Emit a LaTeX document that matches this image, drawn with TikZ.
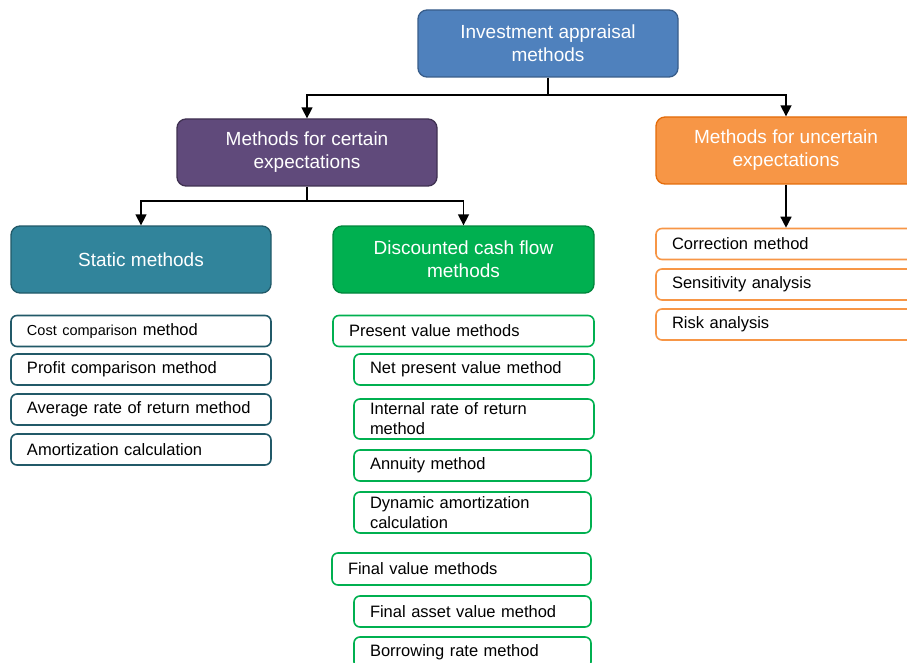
\documentclass[tikz,border=0pt]{standalone}
\usepackage{fontspec}
\setmainfont{Liberation Sans}
\usetikzlibrary{arrows.meta}
\definecolor{cblue}{HTML}{4F81BD}\definecolor{cblueD}{HTML}{385D8A}
\definecolor{cpurp}{HTML}{604A7B}\definecolor{cpurpD}{HTML}{3F3151}
\definecolor{corng}{HTML}{F79646}\definecolor{corngD}{HTML}{E46C0A}
\definecolor{cteal}{HTML}{31849B}\definecolor{ctealD}{HTML}{215968}
\definecolor{cgrn}{HTML}{00B050}\definecolor{cgrnD}{HTML}{00863C}
\tikzset{
  hdr/.style n args={2}{draw=#2, fill=#1, line width=1.3pt, rounded corners=9pt,
    minimum width=260pt, minimum height=67pt, text=white, align=center,
    font=\fontsize{19}{23}\selectfont},
  item/.style={draw=#1, fill=white, line width=1.6pt, rounded corners=6pt,
    minimum height=31pt, inner xsep=15pt, inner ysep=2pt, align=left,
    font=\fontsize{16.5}{20}\selectfont},
  conn/.style={draw=black, line width=1.5pt},
  arr/.style={conn, -{Triangle[length=11pt,width=11pt]}}
}
\begin{document}
\begin{tikzpicture}[x=1pt,y=-1pt]
\clip (0,0) rectangle (907,663);
\fill[white] (0,0) rectangle (907,663);
% headers
\node[hdr={cblue}{cblueD}] (top) at (548,43.5) {Investment appraisal\\methods};
\node[hdr={cpurp}{cpurpD}] (cert) at (307,152.5) {Methods for certain\\expectations};
\node[hdr={corng}{corngD}] (unc) at (786,150.5) {Methods for uncertain\\expectations};
\node[hdr={cteal}{ctealD}] (stat) at (141,259.5) {Static methods};
\node[hdr={cgrn}{cgrnD}, minimum width=261pt] (dcf) at (463.5,259.5) {Discounted cash flow\\methods};
% static items
\node[item=ctealD, text width=228pt, minimum width=260pt] (s1) at (141,331) {{\fontsize{14.5}{18}\selectfont Cost comparison} method};
\node[item=ctealD, text width=228pt, minimum width=260pt] (s2) at (141,369.5) {Profit comparison method};
\node[item=ctealD, text width=228pt, minimum width=260pt] (s3) at (141,409.5) {Average rate of return method};
\node[item=ctealD, text width=228pt, minimum width=260pt] (s4) at (141,449.5) {Amortization calculation};
% dcf items
\node[item=cgrn, text width=229pt, minimum width=261pt] (d1) at (463.5,331) {Present value methods};
\node[item=cgrn, text width=208pt, minimum width=240pt] (d2) at (474,369.5) {Net present value method};
\node[item=cgrn, text width=208pt, minimum width=240pt, minimum height=40pt] (d3) at (474,419) {Internal rate of return\\method};
\node[item=cgrn, text width=205pt, minimum width=237pt] (d4) at (472.5,465.5) {Annuity method};
\node[item=cgrn, text width=205pt, minimum width=237pt, minimum height=41pt] (d5) at (472.5,512.5) {Dynamic amortization\\calculation};
\node[item=cgrn, text width=227pt, minimum width=259pt, minimum height=32pt] (d6) at (461.5,569) {Final value methods};
\node[item=cgrn, text width=205pt, minimum width=237pt] (d7) at (472.5,611.5) {Final asset value method};
\node[item=cgrn, text width=205pt, minimum width=237pt] (d8) at (472.5,652.5) {Borrowing rate method};
% uncertain items
\node[item=corng, text width=228pt, minimum width=260pt] (u1) at (786,244) {Correction method};
\node[item=corng, text width=228pt, minimum width=260pt] (u2) at (786,284.5) {Sensitivity analysis};
\node[item=corng, text width=228pt, minimum width=260pt] (u3) at (786,324.5) {Risk analysis};
% connectors
\coordinate (j1) at (548,95);
\coordinate (j2) at (307,201);
\draw[conn] (top.south) -- (j1);
\draw[arr] (j1) -| (cert.north);
\draw[arr] (j1) -| (unc.north);
\draw[conn] (cert.south) -- (j2);
\draw[arr] (j2) -| (stat.north);
\draw[arr] (j2) -| (dcf.north);
\draw[arr] (unc.south) -- (u1.north);
\end{tikzpicture}
\end{document}
